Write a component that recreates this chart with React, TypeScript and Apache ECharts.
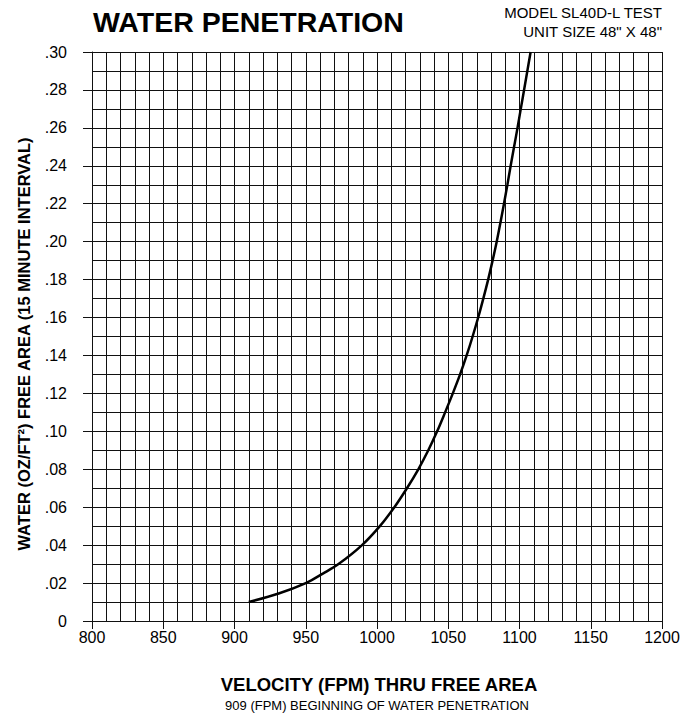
import React, { useEffect, useRef } from "react";
import * as echarts from "echarts";

const velocity = [910, 931, 950, 962, 973, 989.5, 1002, 1012.2, 1021, 1029, 1036, 1042.2, 1047.8, 1053.2, 1058.3, 1062.9, 1067.1, 1071, 1074.6, 1078, 1081.1, 1084, 1086.6, 1089.1, 1091.5, 1093.8, 1096.2, 1098.6, 1100.9, 1103.2, 1105.5, 1107.8];
const water = [0.01, 0.0145, 0.02, 0.025, 0.03, 0.04, 0.05, 0.06, 0.07, 0.08, 0.09, 0.1, 0.11, 0.12, 0.13, 0.14, 0.15, 0.16, 0.17, 0.18, 0.19, 0.2, 0.21, 0.22, 0.23, 0.24, 0.25, 0.26, 0.27, 0.28, 0.29, 0.3];

const xMin = 800;
const xMax = 1200;
const xStep = 50;
const yMin = 0;
const yMax = 0.3;
const yStep = 0.02;

const title = "WATER PENETRATION";
const modelLine1 = "MODEL SL40D-L TEST";
const modelLine2 = 'UNIT SIZE 48" X 48"';
const xName = "VELOCITY (FPM) THRU FREE AREA";
const xSubName = "909 (FPM) BEGINNING OF WATER PENETRATION";
const yName = "WATER (OZ/FT²) FREE AREA (15 MINUTE INTERVAL)";

const FONT = "'Liberation Sans', Arial, Helvetica, sans-serif";
const INK = "#111";

export default function App() {
  const ref = useRef<HTMLDivElement>(null);
  useEffect(() => {
    if (!ref.current) return;
    const chart = echarts.init(ref.current, undefined, { renderer: "svg" });
    const line = { color: INK, width: 1 };
    chart.setOption({
      animation: false,
      backgroundColor: "#fff",
      textStyle: { fontFamily: FONT },
      grid: { left: 92, right: 26, top: 52, bottom: 94 },
      xAxis: {
        type: "value",
        min: xMin,
        max: xMax,
        interval: xStep,
        axisLine: { show: true, onZero: false, lineStyle: line },
        axisTick: { show: true, length: 8, lineStyle: line },
        axisLabel: {
          color: "#000",
          fontSize: 16,
          margin: 8,
          fontFamily: FONT,
          formatter: (v: number) => String(v),
        },
        splitLine: { show: true, lineStyle: line },
        minorTick: { show: false, splitNumber: 5 },
        minorSplitLine: { show: true, lineStyle: line },
      },
      yAxis: {
        type: "value",
        min: yMin,
        max: yMax,
        interval: yStep,
        axisLine: { show: true, onZero: false, lineStyle: line },
        axisTick: { show: true, length: 9, lineStyle: line },
        axisLabel: {
          color: "#000",
          fontSize: 16,
          margin: 25,
          fontFamily: FONT,
          formatter: (v: number) =>
            v === 0 ? "0" : "." + String(Math.round(v * 100)).padStart(2, "0"),
        },
        splitLine: { show: true, lineStyle: line },
        minorTick: { show: false, splitNumber: 2 },
        minorSplitLine: { show: true, lineStyle: line },
      },
      series: [
        {
          type: "line",
          data: velocity.map((v, i) => [v, water[i]]),
          smooth: 0.35,
          showSymbol: false,
          symbol: "none",
          lineStyle: { color: "#000", width: 2.5 },
          z: 5,
        },
      ],
      graphic: [
        {
          type: "text",
          left: 93,
          top: 7,
          style: { text: title, fontSize: 28.5, fontWeight: "bold", fill: "#000", fontFamily: FONT },
        },
        {
          type: "text",
          x: 662,
          y: 12,
          style: {
            text: modelLine1,
            fontSize: 15,
            align: "right",
            verticalAlign: "middle",
            fill: "#000",
            fontFamily: FONT,
          },
        },
        {
          type: "text",
          x: 662,
          y: 31,
          style: {
            text: modelLine2,
            fontSize: 15,
            align: "right",
            verticalAlign: "middle",
            fill: "#000",
            fontFamily: FONT,
          },
        },
        {
          type: "text",
          x: 379,
          y: 684,
          style: {
            text: xName,
            fontSize: 18.5,
            fontWeight: "bold",
            align: "center",
            verticalAlign: "middle",
            fill: "#000",
            fontFamily: FONT,
          },
        },
        {
          type: "text",
          x: 377,
          y: 705,
          style: {
            text: xSubName,
            fontSize: 13,
            align: "center",
            verticalAlign: "middle",
            fill: "#000",
            fontFamily: FONT,
          },
        },
        {
          type: "text",
          x: 24,
          y: 344,
          rotation: Math.PI / 2,
          style: {
            text: yName,
            fontSize: 16.5,
            fontWeight: "bold",
            align: "center",
            verticalAlign: "middle",
            fill: "#000",
            fontFamily: FONT,
          },
        },
      ],
    });
    return () => chart.dispose();
  }, []);
  return (
    <div
      ref={ref}
      style={{ position: "fixed", left: 0, top: 0, width: 688, height: 715, background: "#fff" }}
    />
  );
}
